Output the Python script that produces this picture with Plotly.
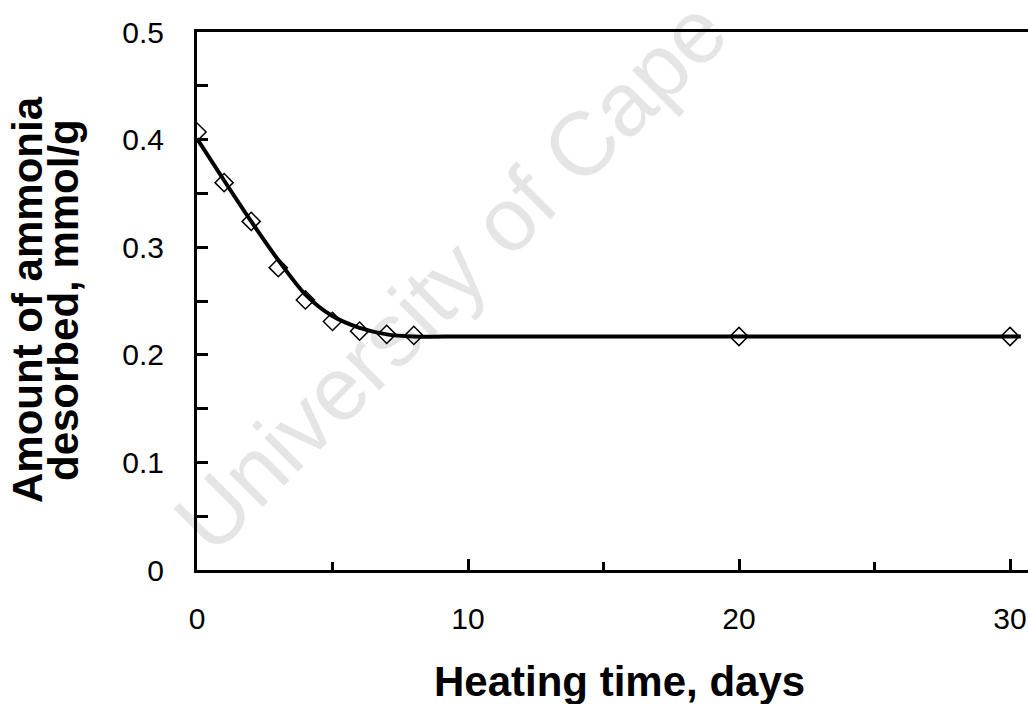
import plotly.graph_objects as go

# Measured data (heating time in days vs amount of ammonia desorbed, mmol/g)
days = [0, 1, 2, 3, 4, 5, 6, 7, 8, 20, 30]
ammonia = [0.407, 0.360, 0.324, 0.281, 0.251, 0.231, 0.222, 0.219, 0.218, 0.217, 0.217]

# Fitted (trend) curve
fit_days = [0, 1, 2, 3, 4, 5, 6, 7, 8, 10, 20, 30.4]
fit_ammonia = [0.401, 0.362, 0.324, 0.288, 0.256, 0.236, 0.225, 0.219, 0.217, 0.217, 0.217, 0.217]

x_ticks = [0, 10, 20, 30]
y_ticks = [0, 0.1, 0.2, 0.3, 0.4, 0.5]
y_ticklabels = ["0", "0.1", "0.2", "0.3", "0.4", "0.5"]

x_title = "Heating time, days"
y_title_lines = ["Amount of ammonia", "desorbed, mmol/g"]
watermark = "University of Cape"

W, H = 1028, 704
L, R, T, B = 197, 0, 32, 134
plot_w = W - L - R
plot_h = H - T - B

def px_x(px):
    return (px - L) / plot_w

def px_y(py):
    return (H - B - py) / plot_h

FONT = "Liberation Sans, Arial, sans-serif"

fig = go.Figure()
fig.add_trace(go.Scatter(
    x=fit_days, y=fit_ammonia, mode="lines",
    line=dict(color="black", width=4, shape="spline", smoothing=0.8),
    hoverinfo="skip", showlegend=False,
))
fig.add_trace(go.Scatter(
    x=days, y=ammonia, mode="markers",
    marker=dict(symbol="diamond-open", size=14, color="black",
                line=dict(color="black", width=1.5)),
    showlegend=False,
))

fig.update_layout(
    width=W, height=H,
    margin=dict(l=L, r=R, t=T, b=B, pad=0),
    paper_bgcolor="white", plot_bgcolor="white",
    font=dict(family=FONT, color="black"),
    showlegend=False,
)

fig.update_xaxes(
    range=[0, 30 * plot_w / (1010 - L)],
    tickmode="array", tickvals=x_ticks, ticktext=[str(v) for v in x_ticks],
    ticks="inside", ticklen=11, tickwidth=2.5, tickcolor="black",
    minor=dict(dtick=5, ticks="inside", ticklen=8, tickwidth=2.5, tickcolor="black"),
    showline=True, linecolor="black", linewidth=3, mirror=True,
    showgrid=False, zeroline=False,
    tickfont=dict(size=30, family=FONT, color="black"),
    ticklabelstandoff=20, automargin=False,
)
fig.update_yaxes(
    range=[0, 0.5],
    tickmode="array", tickvals=y_ticks, ticktext=y_ticklabels,
    ticks="inside", ticklen=11, tickwidth=2.5, tickcolor="black",
    minor=dict(dtick=0.05, ticks="inside", ticklen=11, tickwidth=2.5, tickcolor="black"),
    showline=True, linecolor="black", linewidth=3, mirror=False,
    showgrid=False, zeroline=False,
    tickfont=dict(size=30, family=FONT, color="black"),
    ticklabelstandoff=24, automargin=False,
)

# Watermark
fig.add_annotation(
    text=watermark, xref="paper", yref="paper",
    x=px_x(450), y=px_y(276), xanchor="center", yanchor="middle",
    textangle=-45, showarrow=False,
    font=dict(size=90, family=FONT, color="rgba(0,0,0,0.10)"),
)

# Axis titles
fig.add_annotation(
    text=f"<b>{x_title}</b>", xref="paper", yref="paper",
    x=px_x(619), y=px_y(681), xanchor="center", yanchor="middle",
    showarrow=False, font=dict(size=42, family=FONT, color="black"),
)
for line_text, cx in zip(y_title_lines, [27, 63]):
    fig.add_annotation(
        text=f"<b>{line_text}</b>", xref="paper", yref="paper",
        x=px_x(cx), y=px_y(300), xanchor="center", yanchor="middle",
        textangle=-90, showarrow=False,
        font=dict(size=42, family=FONT, color="black"),
    )

fig.write_html("out.html", config={"displayModeBar": False},
               post_script="document.body.style.margin='0';")
